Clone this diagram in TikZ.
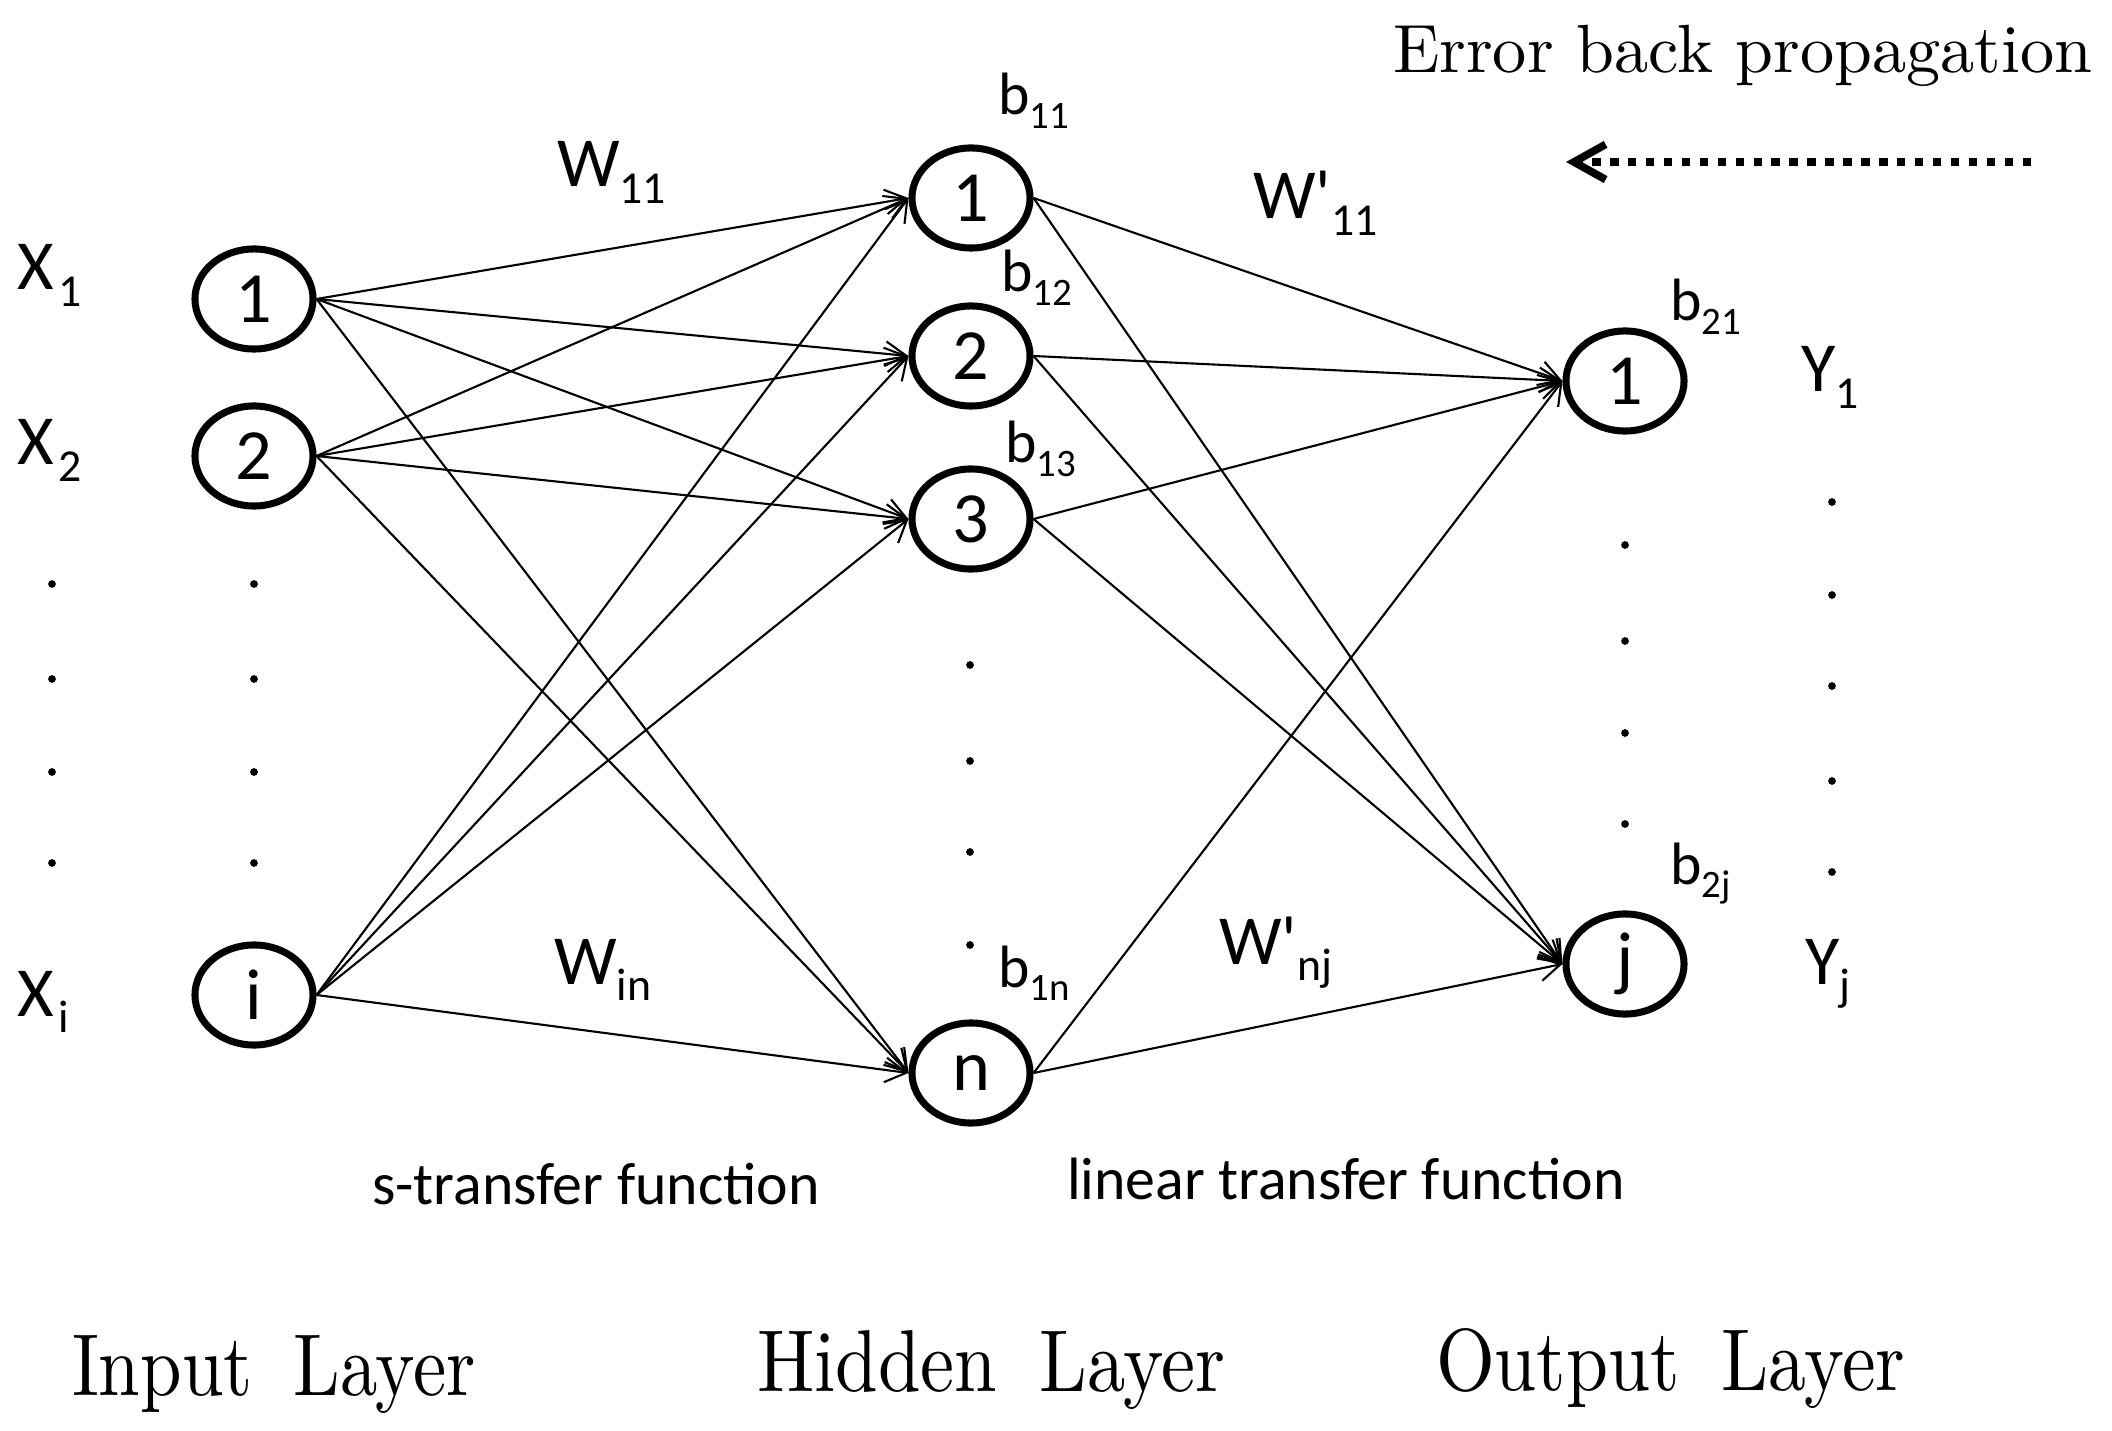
\documentclass[tikz,border=0pt]{standalone}
\usepackage{fontspec}
\newfontfamily\calfont[Ligatures=TeXOff]{Carlito}
\newfontfamily\serifx{lmroman10-regular.otf}
\usetikzlibrary{shapes.geometric,arrows.meta}
\newcommand{\lsub}[1]{\raisebox{-0.23em}{\scalebox{0.65}{#1}}}
\begin{document}
\begin{tikzpicture}[x=0.01cm,y=-0.01cm,
  neuron/.style={draw, ellipse, line width=2pt, minimum width=1.18cm, minimum height=1.0cm, inner sep=0pt, font=\calfont\fontsize{20.5}{24}\selectfont},
  lab/.style={anchor=base west, inner sep=0pt, outer sep=0pt, font=\calfont\fontsize{20}{24}\selectfont},
  blab/.style={anchor=base west, inner sep=0pt, outer sep=0pt, font=\calfont\fontsize{17}{20}\selectfont},
  flab/.style={anchor=base west, inner sep=0pt, outer sep=0pt, font=\calfont\fontsize{17}{20}\selectfont},
  layerlab/.style={anchor=base west, inner sep=0pt, outer sep=0pt, font=\serifx\fontsize{25}{30}\selectfont},
  titlelab/.style={anchor=base west, inner sep=0pt, outer sep=0pt, font=\serifx\fontsize{19.4}{24}\selectfont},
  conn/.style={line width=0.6pt, -{Straight Barb[length=6pt,width=7pt]}},
  backarrow/.style={line width=2.2pt, dash pattern=on 2.4pt off 2.7pt, -{Straight Barb[length=9pt,width=10pt]}},
  dotmark/.style={fill=black}
  ]
\useasboundingbox (0,0) rectangle (2112,1431);

% neurons
\node[neuron] (in1) at (254,299) {1};
\node[neuron] (in2) at (254,456) {2};
\node[neuron] (ini) at (254,995) {i};
\node[neuron] (h1) at (971,198) {1};
\node[neuron] (h2) at (971,356) {2};
\node[neuron] (h3) at (971,519) {3};
\node[neuron] (hn) at (971,1073) {n};
\node[neuron] (o1) at (1625,381) {1};
\node[neuron] (oj) at (1625,964) {j};

% connections
\foreach \a in {in1,in2,ini}
  \foreach \b in {h1,h2,h3,hn}
    \draw[conn] (\a.east) -- (\b.west);
\foreach \a in {h1,h2,h3,hn}
  \foreach \b in {o1,oj}
    \draw[conn] (\a.east) -- (\b.west);

% dots
\foreach \y in {584,679,772,863} {
  \fill[dotmark] (52,\y) circle[radius=1.1pt];
  \fill[dotmark] (254,\y) circle[radius=1.1pt];
}
\foreach \y in {665,761,852,945}
  \fill[dotmark] (970,\y) circle[radius=1.1pt];
\foreach \y in {545,641,733,824}
  \fill[dotmark] (1625,\y) circle[radius=1.1pt];
\foreach \y in {502,595,686,781,872}
  \fill[dotmark] (1832,\y) circle[radius=1.1pt];

% input / output labels
\node[lab] (x1) at (18,290) {X\kern0.06em\lsub{1}};
\node[lab] (x2) at (18,465) {X\kern0.06em\lsub{2}};
\node[lab] (xi) at (18,1016) {X\kern0.06em\lsub{i}};
\node[lab] (y1) at (1801,392) {Y\lsub{1}};
\node[lab] (yj) at (1805,984) {Y\lsub{j}};

% weights
\node[lab] (w11) at (557,187) {W\lsub{11}};
\node[lab] (win) at (554,984) {W\lsub{in}};
\node[lab] (wp11) at (1253,219) {W'\lsub{11}};
\node[lab] (wpnj) at (1219,964) {W'\lsub{nj}};

% biases
\node[blab] (b11) at (998,115) {b\lsub{11}};
\node[blab] (b12) at (1001,292) {b\lsub{12}};
\node[blab] (b13) at (1005,463) {b\lsub{13}};
\node[blab] (b1n) at (998,987) {b\lsub{1n}};
\node[blab] (b21) at (1670,321) {b\lsub{21}};
\node[blab] (b2j) at (1670,884) {b\lsub{2j}};

% transfer functions
\node[flab] (sfun) at (372,1204) {s-transfer function};
\node[flab] (lfun) at (1067,1199) {linear transfer function};

% layer names
\node[layerlab] (inlayer) at (72,1395) {\scalebox{0.85}[1]{Input\hspace{0.55em}Layer}};
\node[layerlab] (hidlayer) at (757,1391) {\scalebox{0.87}[1]{Hidden\hspace{0.55em}Layer}};
\node[layerlab] (outlayer) at (1436,1390) {\scalebox{0.86}[1]{Output\hspace{0.55em}Layer}};

% error back propagation
\node[titlelab] (ebp) at (1393,73) {Error back propagation};
\coordinate (ebpR) at (2031,162);
\coordinate (ebpL) at (1566,162);
\draw[backarrow] (ebpR) -- (ebpL);
\end{tikzpicture}
\end{document}
